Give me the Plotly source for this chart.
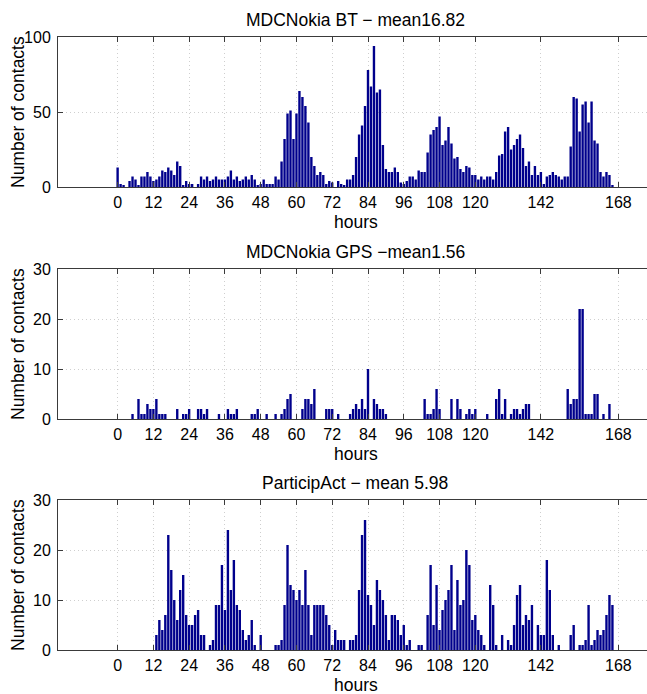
import plotly.graph_objects as go

HOURS = list(range(168))
TICK_VALS = [0, 12, 24, 36, 48, 60, 72, 84, 96, 108, 120, 142, 168]
TICK_TEXT = ["0", "12", "24", "36", "48", "60", "72", "84", "96", "108", "120", "142", "168"]

TITLES = ["MDCNokia BT \u2212 mean16.82", "MDCNokia GPS \u2212mean1.56", "ParticipAct \u2212 mean 5.98"]

BT = [13, 2, 1, 0, 4, 7, 5, 1, 7, 7,
      10, 7, 4, 5, 7, 11, 10, 13, 11, 8,
      17, 14, 1, 4, 2, 2, 0, 2, 7, 5,
      7, 4, 5, 7, 5, 5, 5, 7, 11, 5,
      7, 4, 5, 7, 5, 8, 5, 1, 2, 5,
      2, 2, 2, 7, 5, 17, 32, 49, 51, 32,
      49, 64, 60, 54, 43, 20, 14, 8, 10, 8,
      2, 4, 3, 0, 4, 2, 1, 5, 5, 8,
      20, 35, 41, 54, 78, 67, 94, 63, 65, 28,
      12, 10, 10, 13, 10, 3, 2, 4, 7, 7,
      5, 11, 10, 10, 23, 35, 38, 40, 47, 28,
      31, 40, 29, 19, 20, 12, 10, 14, 13, 8,
      8, 5, 7, 5, 7, 7, 5, 10, 21, 22,
      37, 40, 25, 28, 32, 35, 26, 14, 17, 8,
      14, 8, 10, 2, 7, 8, 10, 8, 7, 5,
      7, 7, 27, 60, 59, 37, 55, 57, 43, 57,
      31, 29, 10, 7, 10, 8, 1, 0]

GPS = [0, 0, 0, 0, 0, 1, 0, 4, 1, 1,
       3, 2, 2, 4, 1, 1, 1, 0, 0, 0,
       2, 0, 1, 1, 2, 0, 0, 2, 2, 1,
       2, 0, 0, 0, 1, 0, 0, 2, 1, 1,
       2, 0, 0, 0, 0, 1, 1, 2, 0, 0,
       1, 0, 0, 1, 0, 1, 2, 4, 5, 0,
       0, 0, 2, 4, 4, 3, 6, 0, 0, 0,
       2, 2, 2, 0, 1, 0, 0, 0, 1, 2,
       3, 2, 4, 2, 10, 0, 4, 3, 2, 2,
       1, 0, 0, 0, 0, 0, 0, 0, 0, 0,
       0, 0, 0, 4, 1, 1, 2, 6, 2, 0,
       0, 0, 4, 0, 4, 2, 0, 1, 2, 1,
       2, 0, 0, 0, 1, 0, 0, 4, 6, 1,
       4, 0, 1, 2, 2, 1, 2, 3, 3, 0,
       0, 0, 0, 0, 0, 0, 0, 0, 0, 0,
       0, 6, 3, 4, 4, 22, 22, 1, 1, 1,
       5, 5, 0, 1, 0, 3, 0, 0]

PA = [0, 0, 0, 0, 0, 0, 0, 0, 0, 0,
      0, 0, 0, 3, 6, 4, 7, 23, 16, 10,
      6, 12, 15, 7, 5, 5, 7, 8, 3, 3,
      0, 1, 2, 9, 9, 17, 8, 24, 12, 18,
      9, 8, 4, 2, 3, 6, 1, 0, 3, 0,
      0, 0, 0, 1, 1, 2, 9, 21, 13, 12,
      10, 12, 9, 16, 9, 3, 9, 9, 9, 9,
      7, 5, 1, 4, 2, 2, 2, 0, 2, 2,
      3, 12, 23, 26, 11, 9, 5, 14, 12, 10,
      7, 2, 7, 7, 6, 3, 5, 1, 2, 0,
      0, 1, 1, 0, 7, 17, 5, 13, 4, 8,
      10, 12, 17, 4, 14, 9, 10, 20, 17, 6,
      7, 4, 3, 1, 0, 13, 9, 1, 0, 3,
      0, 2, 1, 5, 11, 13, 5, 7, 6, 9,
      0, 5, 3, 3, 18, 12, 3, 0, 1, 0,
      0, 0, 3, 5, 0, 1, 1, 2, 9, 1,
      2, 4, 3, 4, 7, 11, 9, 0]

SERIES = [BT, GPS, PA]
Y_RANGES = [[0, 100], [0, 30], [0, 30]]
Y_TICKS = [[0, 50, 100], [0, 10, 20, 30], [0, 10, 20, 30]]

W, H = 647, 694
FONT = "Liberation Sans, Arial, Helvetica, sans-serif"
BAR_COLOR = "#00008C"
AX_COLOR = "#3a3a3a"
GRID_COLOR = "#cfcfcf"

# plot boxes in pixels (top, bottom)
BOXES = [(37, 187), (269, 419), (500, 650)]
LEFT_PX = 58

fig = go.Figure()
annotations = []
for i, (vals, (top, bot)) in enumerate(zip(SERIES, BOXES)):
    n = "" if i == 0 else str(i + 1)
    fig.add_trace(go.Bar(x=HOURS, y=vals, xaxis="x" + n, yaxis="y" + n,
                         marker=dict(color=BAR_COLOR, line=dict(width=0)),
                         showlegend=False, hoverinfo="x+y"))
    dom_y = [1 - bot / H, 1 - top / H]
    xa = dict(domain=[LEFT_PX / W, 1], range=[-20, 177.6], anchor="y" + n,
              tickmode="array", tickvals=TICK_VALS, ticktext=TICK_TEXT,
              ticks="inside", ticklen=5, tickcolor=AX_COLOR, tickwidth=1,
              showline=True, linecolor=AX_COLOR, linewidth=1, mirror="ticks",
              showgrid=True, gridcolor=GRID_COLOR, griddash="1px,3px", gridwidth=1,
              zeroline=False, automargin=False, ticklabelstandoff=1,
              tickfont=dict(family=FONT, size=16, color="black"))
    ya = dict(domain=dom_y, range=Y_RANGES[i], anchor="x" + n,
              tickmode="array", tickvals=Y_TICKS[i],
              ticks="inside", ticklen=5, tickcolor=AX_COLOR, tickwidth=1,
              showline=True, linecolor=AX_COLOR, linewidth=1, mirror=False,
              showgrid=True, gridcolor=GRID_COLOR, griddash="1px,3px", gridwidth=1,
              zeroline=False, automargin=False, ticklabelstandoff=3,
              tickfont=dict(family=FONT, size=16, color="black"))
    fig.update_layout({"xaxis" + n: xa, "yaxis" + n: ya})

    annotations.append(dict(text=TITLES[i], x=355 / W, y=1 - (top - 17) / H,
                            xref="paper", yref="paper", showarrow=False,
                            xanchor="center", yanchor="middle",
                            font=dict(family=FONT, size=17.5, color="black")))
    annotations.append(dict(text="hours", x=356 / W, y=1 - (bot + 35) / H,
                            xref="paper", yref="paper", showarrow=False,
                            xanchor="center", yanchor="middle",
                            font=dict(family=FONT, size=17.5, color="black")))
    annotations.append(dict(text="Number of contacts", x=18 / W, y=1 - ((top + bot) / 2) / H,
                            xref="paper", yref="paper", showarrow=False, textangle=-90,
                            xanchor="center", yanchor="middle",
                            font=dict(family=FONT, size=17.5, color="black")))

fig.update_layout(width=W, height=H, margin=dict(l=0, r=0, t=0, b=0),
                  paper_bgcolor="white", plot_bgcolor="white",
                  bargap=0.2, annotations=annotations)

fig.write_html("out.html")
